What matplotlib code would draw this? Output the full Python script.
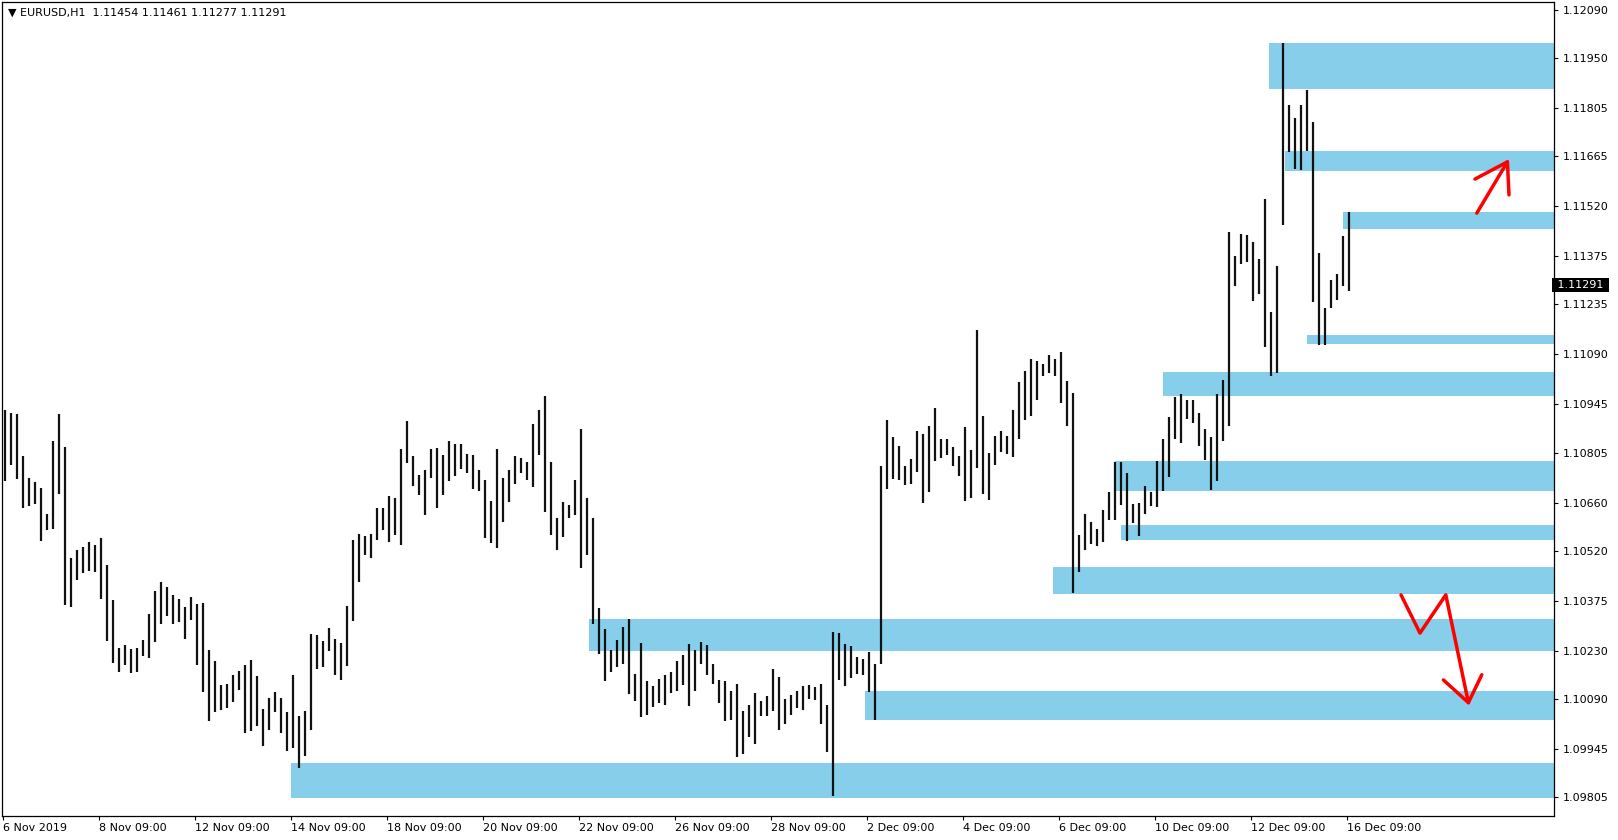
import numpy as np
import matplotlib
matplotlib.use('Agg')
import matplotlib.pyplot as plt
import matplotlib.transforms as mtransforms

# EURUSD H1 с 6 Nov 09:00, бары сгруппированы по 3 часа (максимум / минимум)
highs = [
    1.10928, 1.10921, 1.10918, 1.10794, 1.10732, 1.10720, 1.10701, 1.10628, 1.10838, 1.10916,
    1.10822, 1.10498, 1.10521, 1.10531, 1.10545, 1.10538, 1.10556, 1.10480, 1.10376, 1.10238,
    1.10245, 1.10236, 1.10238, 1.10262, 1.10337, 1.10403, 1.10430, 1.10415, 1.10393, 1.10379,
    1.10358, 1.10387, 1.10364, 1.10369, 1.10231, 1.10200, 1.10129, 1.10134, 1.10158, 1.10170,
    1.10187, 1.10204, 1.10156, 1.10061, 1.10093, 1.10111, 1.10093, 1.10051, 1.10158, 1.10041,
    1.10056, 1.10277, 1.10274, 1.10257, 1.10296, 1.10265, 1.10252, 1.10359, 1.10550, 1.10569,
    1.10562, 1.10570, 1.10643, 1.10644, 1.10680, 1.10672, 1.10816, 1.10898, 1.10796, 1.10741,
    1.10754, 1.10814, 1.10817, 1.10799, 1.10838, 1.10831, 1.10829, 1.10800, 1.10797, 1.10753,
    1.10726, 1.10664, 1.10814, 1.10730, 1.10753, 1.10795, 1.10788, 1.10778, 1.10889, 1.10930,
    1.10969, 1.10777, 1.10616, 1.10661, 1.10652, 1.10724, 1.10872, 1.10674, 1.10614, 1.10353,
    1.10292, 1.10233, 1.10262, 1.10300, 1.10322, 1.10163, 1.10251, 1.10143, 1.10127, 1.10149,
    1.10159, 1.10168, 1.10201, 1.10218, 1.10250, 1.10231, 1.10256, 1.10245, 1.10192, 1.10146,
    1.10143, 1.10114, 1.10134, 1.10054, 1.10073, 1.10107, 1.10083, 1.10097, 1.10178, 1.10154,
    1.10091, 1.10102, 1.10114, 1.10127, 1.10129, 1.10125, 1.10134, 1.10073, 1.10284, 1.10281,
    1.10250, 1.10243, 1.10212, 1.10207, 1.10226, 1.10192, 1.10767, 1.10901, 1.10851, 1.10825,
    1.10767, 1.10787, 1.10869, 1.10860, 1.10881, 1.10934, 1.10843, 1.10845, 1.10822, 1.10794,
    1.10878, 1.10812, 1.11162, 1.10912, 1.10804, 1.10852, 1.10869, 1.10852, 1.10930, 1.11009,
    1.11043, 1.11078, 1.11070, 1.11062, 1.11089, 1.11078, 1.11097, 1.11014, 1.10978, 1.10567,
    1.10628, 1.10604, 1.10583, 1.10637, 1.10692, 1.10779, 1.10779, 1.10746, 1.10656, 1.10659,
    1.10707, 1.10691, 1.10780, 1.10844, 1.10908, 1.10966, 1.10975, 1.10957, 1.10957, 1.10920,
    1.10874, 1.10850, 1.10975, 1.11015, 1.11445, 1.11375, 1.11440, 1.11438, 1.11417, 1.11367,
    1.11540, 1.11213, 1.11346, 1.11994, 1.11815, 1.11777, 1.11815, 1.11857, 1.11765, 1.11385,
    1.11225, 1.11306, 1.11322, 1.11435, 1.11504,
]
lows = [
    1.10722, 1.10769, 1.10727, 1.10643, 1.10650, 1.10657, 1.10548, 1.10579, 1.10582, 1.10684,
    1.10362, 1.10356, 1.10435, 1.10456, 1.10461, 1.10459, 1.10381, 1.10258, 1.10195, 1.10169,
    1.10188, 1.10166, 1.10169, 1.10214, 1.10209, 1.10256, 1.10306, 1.10330, 1.10308, 1.10313,
    1.10263, 1.10319, 1.10188, 1.10110, 1.10025, 1.10052, 1.10059, 1.10064, 1.10080, 1.10117,
    1.09991, 1.09996, 1.10010, 1.09952, 1.10001, 1.10051, 1.09991, 1.09938, 1.09947, 1.09888,
    1.09925, 1.09999, 1.10177, 1.10182, 1.10228, 1.10158, 1.10146, 1.10185, 1.10315, 1.10429,
    1.10507, 1.10498, 1.10552, 1.10581, 1.10545, 1.10567, 1.10538, 1.10775, 1.10709, 1.10683,
    1.10625, 1.10730, 1.10644, 1.10683, 1.10722, 1.10736, 1.10756, 1.10746, 1.10698, 1.10693,
    1.10556, 1.10543, 1.10527, 1.10604, 1.10661, 1.10715, 1.10746, 1.10724, 1.10705, 1.10798,
    1.10632, 1.10567, 1.10521, 1.10560, 1.10614, 1.10624, 1.10469, 1.10509, 1.10306, 1.10221,
    1.10141, 1.10169, 1.10182, 1.10192, 1.10103, 1.10083, 1.10037, 1.10043, 1.10066, 1.10079,
    1.10072, 1.10108, 1.10112, 1.10131, 1.10068, 1.10112, 1.10191, 1.10160, 1.10133, 1.10078,
    1.10025, 1.10030, 1.09920, 1.09930, 1.09978, 1.09960, 1.10039, 1.10039, 1.10054, 1.10001,
    1.10018, 1.10044, 1.10064, 1.10059, 1.10090, 1.10088, 1.10018, 1.09935, 1.09809, 1.10144,
    1.10127, 1.10150, 1.10163, 1.10160, 1.10109, 1.10028, 1.10192, 1.10698, 1.10727, 1.10724,
    1.10710, 1.10714, 1.10748, 1.10659, 1.10690, 1.10780, 1.10788, 1.10799, 1.10765, 1.10736,
    1.10663, 1.10673, 1.10759, 1.10685, 1.10668, 1.10770, 1.10807, 1.10802, 1.10792, 1.10844,
    1.10901, 1.10910, 1.10957, 1.11026, 1.11036, 1.11026, 1.10949, 1.10881, 1.10397, 1.10457,
    1.10521, 1.10541, 1.10533, 1.10544, 1.10608, 1.10608, 1.10654, 1.10549, 1.10601, 1.10564,
    1.10627, 1.10649, 1.10647, 1.10694, 1.10735, 1.10843, 1.10833, 1.10903, 1.10891, 1.10823,
    1.10783, 1.10697, 1.10723, 1.10840, 1.10881, 1.11288, 1.11351, 1.11359, 1.11244, 1.11264,
    1.11111, 1.11026, 1.11036, 1.11467, 1.11677, 1.11627, 1.11624, 1.11680, 1.11241, 1.11118,
    1.11118, 1.11225, 1.11247, 1.11290, 1.11275,
]
hours_per_group = 3

# подписи времени (каждые 48 часовых баров)
x_labels = ['6 Nov 2019', '8 Nov 09:00', '12 Nov 09:00', '14 Nov 09:00', '18 Nov 09:00',
            '20 Nov 09:00', '22 Nov 09:00', '26 Nov 09:00', '28 Nov 09:00', '2 Dec 09:00',
            '4 Dec 09:00', '6 Dec 09:00', '10 Dec 09:00', '12 Dec 09:00', '16 Dec 09:00']
bars_per_label = 48
y_labels = ['1.12090', '1.11950', '1.11805', '1.11665', '1.11520', '1.11375', '1.11235',
            '1.11090', '1.10945', '1.10805', '1.10660', '1.10520', '1.10375', '1.10230',
            '1.10090', '1.09945', '1.09805']

# зоны (начало в часовых барах, нижняя и верхняя цена)
zone_start = [633, 641, 670, 652, 580, 556, 559, 525, 293, 431, 144]
zone_low = [1.11859, 1.11621, 1.11455, 1.11121, 1.10970, 1.10694, 1.10552, 1.10395, 1.10228, 1.10030, 1.09803]
zone_high = [1.11994, 1.11681, 1.11504, 1.11147, 1.11039, 1.10781, 1.10595, 1.10474, 1.10323, 1.10114, 1.09905]

last_price = 1.11291
title = '▼ EURUSD,H1  1.11454 1.11461 1.11277 1.11291'

# нарисованные от руки стрелки (бар, цена)
up_arrow_x = [736.7, 752.0]
up_arrow_y = [1.11500, 1.11649]
up_head_x = [735.8, 752.0, 752.8]
up_head_y = [1.11599, 1.11649, 1.11553]
down_arrow_x = [698.8, 708.3, 721.2, 732.5]
down_arrow_y = [1.10392, 1.10281, 1.10392, 1.10079]
down_head_x = [720.0, 732.5, 739.2]
down_head_y = [1.10145, 1.10079, 1.10160]

W, H = 1618, 840
fig = plt.figure(figsize=(W / 100, H / 100), dpi=100)
ax = fig.add_axes([2 / W, 24 / H, 1552 / W, 814 / H])

# зоны до правого края
x_right = 780
ax.barh([(lo + hi) / 2 for lo, hi in zip(zone_low, zone_high)],
        [x_right - s for s in zone_start], left=zone_start,
        height=[hi - lo for lo, hi in zip(zone_low, zone_high)],
        color='#87CEEB', edgecolor='none', zorder=1)

# бары
xs = np.arange(len(highs)) * hours_per_group + 1
ax.vlines(xs, lows, highs, color='#111111', linewidth=1.6, zorder=2)

# стрелки
for px, py in [(up_arrow_x, up_arrow_y), (up_head_x, up_head_y),
               (down_arrow_x, down_arrow_y), (down_head_x, down_head_y)]:
    ax.plot(px, py, color='#ff0000', linewidth=2.5, solid_capstyle='round',
            solid_joinstyle='round', zorder=3)

ax.set_xlim(-0.7, 775.3)
ax.set_ylim(1.09750, 1.12113)

ax.set_xticks(np.arange(len(x_labels)) * bars_per_label)
ax.set_xticklabels(x_labels, ha='left')
ax.set_yticks([float(v) for v in y_labels])
ax.set_yticklabels(y_labels)
ax.yaxis.tick_right()
ax.tick_params(axis='both', labelsize=8, length=3, width=0.8, color='black', labelcolor='black')
ax.tick_params(axis='x', pad=2)
ax.tick_params(axis='y', pad=3)
for s in ax.spines.values():
    s.set_color('black')
    s.set_linewidth(0.9)

# текущая цена
trans = mtransforms.blended_transform_factory(ax.transAxes, ax.transData)
ax.text(1.0, last_price, ' ' + f'{last_price:.5f}' + ' ', transform=trans, ha='left', va='center',
        fontsize=8, color='white', zorder=5,
        bbox=dict(facecolor='black', edgecolor='none', pad=1.2))

ax.text(0.004, 0.993, title, transform=ax.transAxes, ha='left', va='top', fontsize=8, color='black')

fig.savefig('out.png', dpi=100, facecolor='white')
